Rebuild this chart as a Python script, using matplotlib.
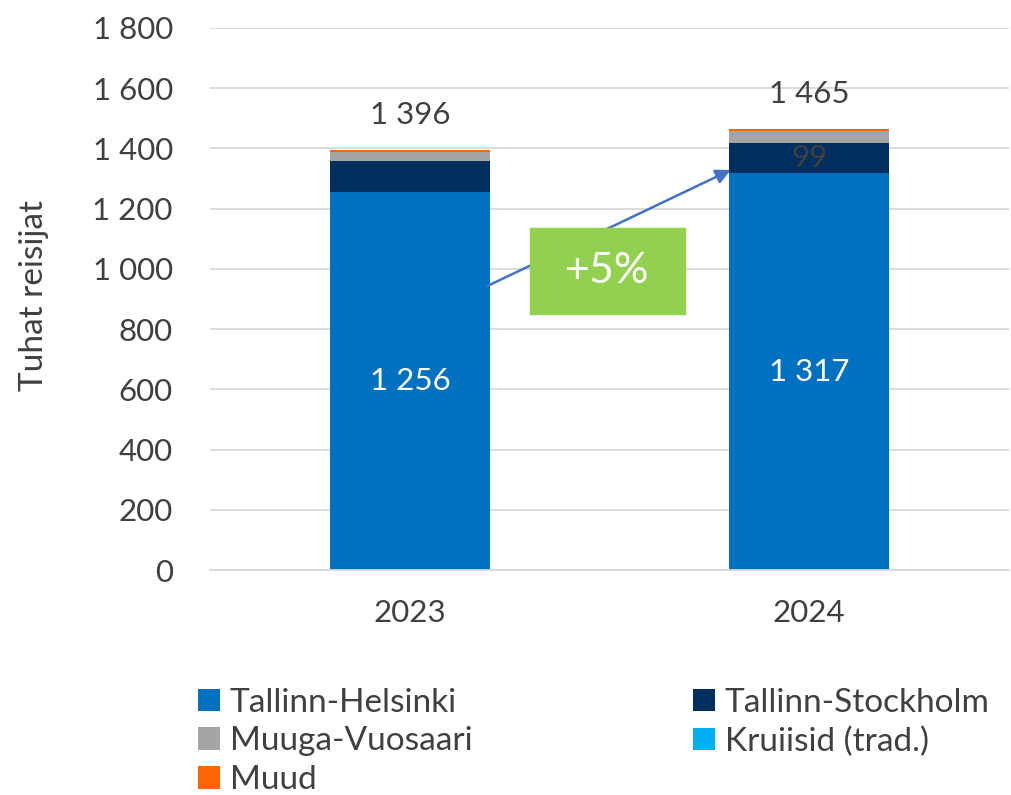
import numpy as np
import matplotlib
matplotlib.use('Agg')
import matplotlib.pyplot as plt
from matplotlib.patches import Rectangle

plt.rcParams['font.family'] = ['Lato', 'DejaVu Sans']

# ------------------------
# data
# ------------------------
years = ['2023', '2024']
series_names = ['Tallinn-Helsinki', 'Tallinn-Stockholm', 'Muuga-Vuosaari',
                'Kruiisid (trad.)', 'Muud']
helsinki = [1256, 1317]
stockholm = [101, 99]
vuosaari = [30, 40]
kruiisid = [0, 0]
muud = [9, 9]
totals = [1396, 1465]
yticks = [0, 200, 400, 600, 800, 1000, 1200, 1400, 1600, 1800]
growth_label = '+5%'

colors = ['#0070C0', '#002F5F', '#A5A5A5', '#00B0F0', '#FF6600']
txt = '#404040'

# ------------------------

def fmt(v):
    return '{:,}'.format(v).replace(',', ' ')

fig = plt.figure(figsize=(10.11, 7.95), dpi=100)
ax = fig.add_axes([0.208, 0.283, 0.79, 0.682])

x = np.arange(len(years))
width = 0.4
bottom = np.zeros(len(years))
handles = []
for vals, name, c in zip([helsinki, stockholm, vuosaari, kruiisid, muud], series_names, colors):
    h = ax.bar(x, vals, width, bottom=bottom, color=c, label=name, zorder=2)
    handles.append(h)
    bottom += np.array(vals)

# labels inside / above bars
for i in range(len(years)):
    ax.text(x[i], helsinki[i] / 2, fmt(helsinki[i]),
            ha='center', va='center', color='white', fontsize=22.5, zorder=3)
    ax.text(x[i], totals[i] + 115, fmt(totals[i]),
            ha='center', va='center', color=txt, fontsize=22.5, zorder=3)
ax.text(x[1], helsinki[1] + stockholm[1] / 2, str(stockholm[1]),
        ha='center', va='center', color=txt, fontsize=22.5, zorder=3)

# growth arrow and box
ax.annotate('', xy=(0.803, 1328), xytext=(0.194, 943),
            arrowprops=dict(arrowstyle='-|>', color='#4472C4', lw=1.8,
                            mutation_scale=22, shrinkA=0, shrinkB=0), zorder=3)
ax.add_patch(Rectangle((0.2995, 850), 0.3885, 286, color='#92D050', zorder=4))
ax.text(0.494, 993, growth_label, ha='center', va='center', color='white',
        fontsize=31, zorder=5)

ax.set_xlim(-0.5, 1.5)
ax.set_ylim(0, 1800)
ax.set_yticks(yticks)
ax.set_yticklabels([fmt(v) for v in yticks])
ax.set_xticks(x)
ax.set_xticklabels(years)
ax.yaxis.grid(True, color='#D9D9D9', lw=1.3, zorder=0)
ax.set_axisbelow(True)
for s in ['top', 'right', 'left']:
    ax.spines[s].set_visible(False)
ax.spines['bottom'].set_color('#D9D9D9')
ax.spines['bottom'].set_linewidth(1.3)
ax.tick_params(axis='both', length=0, labelsize=22.5, colors=txt)
ax.tick_params(axis='y', pad=27)
ax.tick_params(axis='x', pad=21)
ax.set_ylabel('Tuhat reisijat', fontsize=24, color=txt)
ax.yaxis.set_label_coords(-0.202, 0.507)

order = [0, 2, 4, 1, 3]
fig.legend([handles[i] for i in order], [series_names[i] for i in order],
           ncol=2, loc='upper left', bbox_to_anchor=(0.179, 0.156),
           frameon=False, fontsize=24, labelcolor=txt, handlelength=0.67,
           handleheight=0.67, handletextpad=0.3, columnspacing=6.6,
           labelspacing=0.26, borderpad=0)

fig.savefig('out.png', dpi=100)
